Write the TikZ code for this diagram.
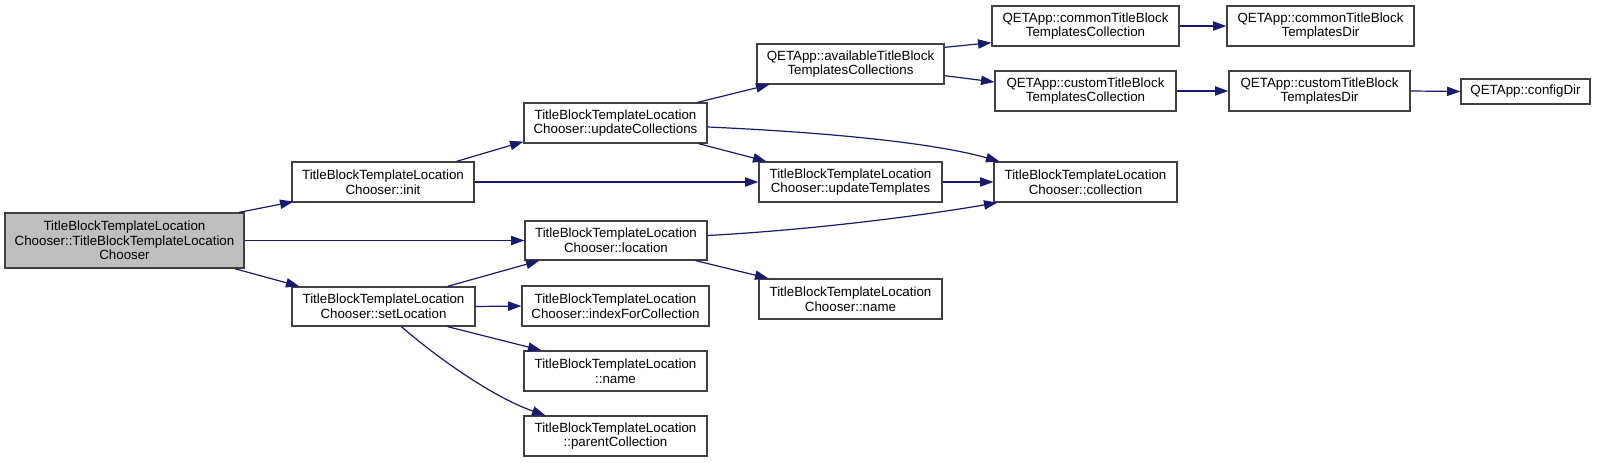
\documentclass[tikz,border=0pt]{standalone}
\usepackage{fontspec}
\setmainfont{Liberation Sans}
\usetikzlibrary{arrows.meta,calc}
\definecolor{edgeblue}{HTML}{191970}
\definecolor{boxline}{HTML}{404040}
\definecolor{boxfill}{HTML}{BFBFBF}
\tikzset{
  fbox/.style={draw=boxline, line width=1pt, inner sep=0pt, align=center,
    font=\fontsize{10}{11}\selectfont},
  sz/.style 2 args={minimum width=#1*0.75pt, minimum height=#2*0.75pt},
  edge/.style={draw=edgeblue, line width=0.9pt,
    -{Triangle[length=10pt,width=7pt]}},
}
\begin{document}
\begin{tikzpicture}[x=0.75pt,y=-0.75pt]
\useasboundingbox (0,0) rectangle (1597,463);
% nodes
\node[fbox, fill=boxfill, sz={239}{55}] (main) at (124.5,240.5) {TitleBlockTemplateLocation\\Chooser::TitleBlockTemplateLocation\\Chooser};
\node[fbox, sz={182}{40}] (init) at (383,182) {TitleBlockTemplateLocation\\Chooser::init};
\node[fbox, sz={183}{39}] (setloc) at (383.5,306.5) {TitleBlockTemplateLocation\\Chooser::setLocation};
\node[fbox, sz={183}{40}] (updcoll) at (615.5,123) {TitleBlockTemplateLocation\\Chooser::updateCollections};
\node[fbox, sz={182}{39}] (loc) at (616,240.5) {TitleBlockTemplateLocation\\Chooser::location};
\node[fbox, sz={187}{40}] (idx) at (615.5,306) {TitleBlockTemplateLocation\\Chooser::indexForCollection};
\node[fbox, sz={183}{40}] (tname) at (615.5,371) {TitleBlockTemplateLocation\\::name};
\node[fbox, sz={183}{40}] (parent) at (615.5,436) {TitleBlockTemplateLocation\\::parentCollection};
\node[fbox, sz={187}{40}] (avail) at (850.5,64) {QETApp::availableTitleBlock\\TemplatesCollections};
\node[fbox, sz={183}{40}] (updtpl) at (850.5,182) {TitleBlockTemplateLocation\\Chooser::updateTemplates};
\node[fbox, sz={183}{40}] (cname) at (850.5,299) {TitleBlockTemplateLocation\\Chooser::name};
\node[fbox, sz={187}{40}] (commoncoll) at (1085.5,26) {QETApp::commonTitleBlock\\TemplatesCollection};
\node[fbox, sz={181}{40}] (customcoll) at (1085.5,91) {QETApp::customTitleBlock\\TemplatesCollection};
\node[fbox, sz={183}{40}] (coll) at (1085.5,182) {TitleBlockTemplateLocation\\Chooser::collection};
\node[fbox, sz={187}{40}] (commondir) at (1320.5,26) {QETApp::commonTitleBlock\\TemplatesDir};
\node[fbox, sz={181}{40}] (customdir) at (1319.5,91) {QETApp::customTitleBlock\\TemplatesDir};
\node[fbox, sz={129}{25}] (cfgdir) at (1525.5,91.5) {QETApp::configDir};
% edges
\draw[edge] ($(main.north west)+(235,0)$) -- ($(init.south west)+(2,-1)$);
\draw[edge] (main.east) -- (loc.west);
\draw[edge] ($(main.south east)+(-10,0)$) -- ($(setloc.north west)+(8,0)$);
\draw[edge] ($(init.north east)+(-18,0)$) -- ($(updcoll.south west)+(0,-2)$);
\draw[edge] (init.east) -- (updtpl.west);
\draw[edge] ($(updcoll.north east)+(-10,0)$) -- ($(avail.south west)+(13,0)$);
\draw[edge] ($(updcoll.south east)+(-9,0)$) -- ($(updtpl.north west)+(8,0)$);
\draw[edge] ($(updcoll.east)+(0,4)$) .. controls (820,132) and (930,142) .. ($(coll.north west)+(6,0)$);
\draw[edge] (updtpl.east) -- (coll.west);
\draw[edge] ($(loc.east)+(0,-5)$) .. controls (810,230) and (920,216) .. ($(coll.south west)+(4,0)$);
\draw[edge] ($(loc.south east)+(-12,0)$) -- ($(cname.north west)+(10,0)$);
\draw[edge] ($(setloc.north east)+(-28,0)$) -- ($(loc.south west)+(15,0)$);
\draw[edge] (setloc.east) -- (idx.west);
\draw[edge] ($(setloc.south east)+(-28,0)$) -- ($(tname.north west)+(18,0)$);
\draw[edge] ($(setloc.south west)+(110,0)$) .. controls (440,360) and (495,398) .. ($(parent.north west)+(22,0)$);
\draw[edge] ($(avail.north east)+(0,4)$) -- ($(commoncoll.south west)+(0,-4)$);
\draw[edge] ($(avail.south east)+(0,-9)$) -- ($(customcoll.west)+(0,-9)$);
\draw[edge] (commoncoll.east) -- (commondir.west);
\draw[edge] (customcoll.east) -- (customdir.west);
\draw[edge] (customdir.east) -- (cfgdir.west);
\end{tikzpicture}
\end{document}
